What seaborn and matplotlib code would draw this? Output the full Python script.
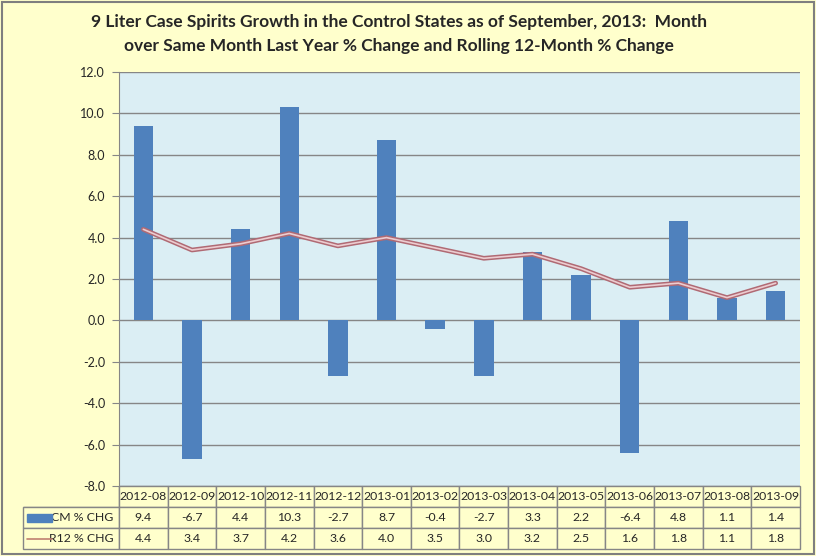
import numpy as np
import matplotlib
matplotlib.use("Agg")
import matplotlib.pyplot as plt
import seaborn as sns
from matplotlib.patches import Rectangle
from matplotlib.lines import Line2D

months = ["2012-08", "2012-09", "2012-10", "2012-11", "2012-12", "2013-01", "2013-02",
          "2013-03", "2013-04", "2013-05", "2013-06", "2013-07", "2013-08", "2013-09"]
cm_chg = [9.4, -6.7, 4.4, 10.3, -2.7, 8.7, -0.4, -2.7, 3.3, 2.2, -6.4, 4.8, 1.1, 1.4]
r12_chg = [4.4, 3.4, 3.7, 4.2, 3.6, 4.0, 3.5, 3.0, 3.2, 2.5, 1.6, 1.8, 1.1, 1.8]
row_names = ["CM % CHG", "R12 % CHG"]
title = ("9 Liter Case Spirits Growth in the Control States as of September, 2013:  Month\n"
         "over Same Month Last Year % Change and Rolling 12-Month % Change")

BG = "#ffffcc"
PLOT_BG = "#dbeef4"
GRID = "#868686"
BAR = "#4f81bd"

sns.set_style("white")
plt.rcParams["font.family"] = ["Lato", "DejaVu Sans"]

fig = plt.figure(figsize=(8.16, 5.56), dpi=100, facecolor=BG)
W, H = 816, 556
# plot area in pixels: x 119..800, y 72..486
ax = fig.add_axes([119 / W, 1 - 486 / H, (800 - 119) / W, (486 - 72) / H])
ax.set_facecolor(PLOT_BG)

x = np.arange(len(months))
sns.barplot(x=x, y=cm_chg, color=BAR, width=0.4, saturation=1, linewidth=0,
            edgecolor=BAR, ax=ax, zorder=3)
sns.lineplot(x=x, y=r12_chg, color="#b06a74", linewidth=3.4, ax=ax, zorder=4)
sns.lineplot(x=x, y=r12_chg, color="#ecccd0", linewidth=1.2, ax=ax, zorder=5)

ax.set_xlim(-0.5, len(months) - 0.5)
ax.set_ylim(-8, 12)
ax.set_yticks(np.arange(-8, 12.1, 2))
ax.set_yticklabels([f"{v:.1f}" for v in np.arange(-8, 12.1, 2)], fontsize=9)
ax.yaxis.grid(True, color=GRID, linewidth=1)
ax.set_axisbelow(True)
ax.set_xticks([])
ax.tick_params(axis="y", length=5, color=GRID, direction="out", pad=5, left=True)
for s in ["top", "right", "bottom"]:
    ax.spines[s].set_visible(False)
ax.spines["left"].set_color(GRID)
ax.spines["left"].set_zorder(6)

# data table below the plot
aw = 800 - 119
ah = 486 - 72
label_w = 96
cells = [[""] + months,
         [row_names[0]] + [f"{v:.1f}" for v in cm_chg],
         [row_names[1]] + [f"{v:.1f}" for v in r12_chg]]
col_w = [label_w / (label_w + aw)] + [aw / len(months) / (label_w + aw)] * len(months)
tbl = ax.table(cellText=cells, colWidths=col_w, cellLoc="center",
               bbox=[-label_w / aw, -63 / ah, (label_w + aw) / aw, 63 / ah])
tbl.auto_set_font_size(False)
tbl.set_fontsize(8.8)
for (r, c), cell in tbl.get_celld().items():
    cell.set_facecolor(BG)
    cell.set_edgecolor(GRID)
    cell.set_linewidth(1)
    if c == 0:
        cell.get_text().set_ha("right")
        cell._loc = "right"
        cell.PAD = 0.06
    if r == 0 and c == 0:
        cell.visible_edges = "BR"

# legend keys in the table
row_h = 63 / 3 / ah
kx0 = -(119 - 27) / aw
kw = 25 / aw
ax.add_patch(Rectangle((kx0, -63 / ah + row_h * 1.5 - 4 / ah), kw, 8 / ah,
                       transform=ax.transAxes, color=BAR, clip_on=False, zorder=10))
ax.add_line(Line2D([kx0, kx0 + kw], [-63 / ah + row_h * 0.5] * 2, transform=ax.transAxes,
                   color="#c08070", linewidth=1.2, clip_on=False, zorder=10))

fig.text(399 / W, 1 - 34 / H, title, ha="center", va="center", fontsize=12.5,
         fontweight="bold", linespacing=1.55)

fig.patches.append(Rectangle((2 / W, 2 / H), 1 - 4 / W, 1 - 4 / H, transform=fig.transFigure,
                             fill=False, edgecolor="#7f7f7f", linewidth=1.5))

fig.savefig("out.png", dpi=100, facecolor=BG)
